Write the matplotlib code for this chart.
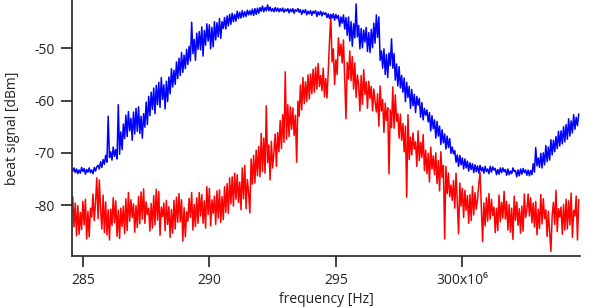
import numpy as np
import matplotlib
matplotlib.use("Agg")
import matplotlib.pyplot as plt

plt.rcParams["axes.unicode_minus"] = False
plt.rcParams["font.family"] = ["Open Sans", "DejaVu Sans"]

# blue trace (dBm), one row per MHz starting at 284.6 MHz, 0.05 MHz steps
blue = [
    -73.5, -72.9, -73.8, -73.1, -74.0, -73.3, -73.9, -72.8, -73.6, -73.0,
    -74.1, -73.2, -73.7, -72.9, -73.8, -73.3, -74.0, -72.8, -73.5, -72.7,
    -72.4, -73.1, -71.7, -72.8, -71.3, -72.2, -70.5, -71.8, -63.0, -70.9,
    -69.8, -71.4, -68.9, -70.7, -69.4, -71.2, -60.8, -70.3, -66.0, -69.4,
    -64.5, -67.3, -62.8, -66.9, -62.1, -65.8, -63.4, -67.6, -62.2, -66.4,
    -61.5, -65.9, -61.2, -66.3, -63.0, -67.2, -62.5, -65.1, -60.3, -64.6,
    -59.2, -62.9, -58.4, -61.7, -57.6, -62.5, -57.1, -60.8, -56.5, -61.3,
    -55.6, -59.8, -57.0, -61.6, -56.3, -60.2, -55.5, -58.7, -53.9, -57.4,
    -54.2, -56.9, -52.6, -55.8, -51.9, -55.2, -50.8, -54.6, -51.3, -53.9,
    -50.2, -53.1, -49.6, -52.4, -45.0, -51.0, -48.3, -52.3, -47.1, -50.2,
    -46.8, -50.3, -45.9, -51.5, -46.6, -49.4, -45.3, -48.6, -45.5, -50.1,
    -46.0, -49.7, -44.9, -48.4, -45.1, -47.8, -44.3, -48.1, -44.9, -46.2,
    -44.1, -46.3, -43.8, -45.7, -43.5, -45.4, -43.3, -44.9, -43.5, -44.8,
    -42.9, -44.3, -43.1, -44.2, -42.8, -44.0, -43.0, -43.9, -42.7, -43.6,
    -42.8, -43.6, -42.5, -43.7, -42.4, -43.5, -42.3, -43.3, -42.2, -42.9,
    -41.9, -43.0, -42.2, -42.8, -41.7, -42.8, -42.1, -42.9, -42.4, -43.0,
    -42.2, -42.9, -42.3, -43.0, -42.4, -42.9, -42.3, -43.1, -42.5, -42.9,
    -42.4, -43.2, -42.5, -43.0, -42.4, -43.3, -42.6, -42.9, -42.4, -43.1,
    -42.6, -43.5, -42.7, -43.2, -42.6, -43.6, -42.9, -43.4, -42.8, -43.7,
    -42.9, -43.3, -42.8, -43.9, -43.0, -43.6, -42.9, -43.8, -43.1, -43.5,
    -43.2, -44.1, -43.4, -44.3, -43.5, -44.2, -43.4, -44.6, -43.5, -44.3,
    -43.7, -45.8, -44.0, -45.2, -43.6, -46.3, -44.1, -47.5, -44.0, -48.6,
    -44.9, -49.6, -45.3, -48.0, -41.5, -47.8, -45.6, -50.1, -46.2, -49.9,
    -46.5, -48.8, -46.0, -50.6, -47.0, -50.8, -46.4, -49.9, -45.2, -49.0,
    -43.6, -47.9, -44.0, -52.3, -50.5, -53.8, -50.1, -55.0, -51.2, -55.6,
    -50.9, -53.3, -48.2, -53.8, -51.0, -56.1, -53.0, -57.2, -53.5, -57.6,
    -55.2, -58.4, -55.7, -60.2, -56.5, -59.4, -57.3, -61.5, -57.9, -61.0,
    -58.8, -62.3, -59.2, -60.9, -59.6, -63.2, -60.4, -63.7, -61.5, -62.8,
    -61.8, -64.1, -62.3, -65.8, -62.9, -65.4, -63.7, -67.2, -64.0, -66.8,
    -64.9, -68.4, -65.6, -68.1, -66.4, -69.3, -66.8, -69.0, -67.3, -70.1,
    -68.9, -70.2, -69.6, -71.8, -70.4, -72.6, -70.5, -72.3, -71.0, -73.1,
    -71.2, -72.9, -71.6, -73.5, -71.9, -73.2, -72.1, -73.8, -72.3, -73.6,
    -72.5, -73.9, -72.4, -73.5, -72.8, -73.9, -72.6, -73.6, -73.1, -74.0,
    -72.6, -73.7, -72.7, -73.3, -73.0, -74.2, -73.2, -74.1, -72.9, -73.8,
    -72.9, -73.6, -73.2, -74.3, -73.1, -74.2, -73.5, -74.0, -72.9, -73.6,
    -73.4, -74.6, -73.3, -74.4, -73.1, -74.1, -73.0, -73.8, -73.3, -74.3,
    -73.3, -74.4, -73.4, -74.2, -72.1, -73.7, -69.0, -72.5, -71.0, -72.8,
    -70.1, -72.9, -70.0, -72.3, -68.6, -71.7, -68.9, -71.4, -67.5, -70.4,
    -67.6, -69.8, -66.9, -69.2, -65.9, -68.7, -65.8, -68.3, -65.0, -67.9,
    -64.6, -67.4, -63.5, -66.8, -63.9, -66.2, -62.7, -65.5, -63.2, -64.8,
    -62.6,
]

# red trace (dBm), same sweep
red = [
    -78.5, -84.2, -79.6, -85.9, -80.1, -85.6, -81.4, -84.7, -79.3, -83.8,
    -78.9, -86.5, -81.2, -86.1, -80.6, -82.3, -77.9, -83.0, -79.5, -74.8,
    -82.6, -75.2, -80.7, -84.6, -78.1, -85.3, -79.4, -85.7, -80.9, -86.7,
    -80.8, -83.9, -78.6, -83.4, -79.2, -86.0, -81.0, -86.4, -80.6, -84.1,
    -80.2, -85.5, -78.8, -84.9, -77.6, -83.1, -79.0, -82.4, -79.8, -85.2,
    -80.1, -84.3, -78.4, -83.6, -77.5, -82.7, -76.9, -83.5, -79.4, -81.8,
    -80.6, -85.0, -79.7, -84.4, -78.2, -83.8, -77.0, -82.9, -77.4, -85.8,
    -80.4, -82.2, -79.6, -84.9, -79.1, -83.7, -80.3, -86.2, -80.9, -85.4,
    -79.1, -84.6, -78.5, -83.3, -77.8, -83.2, -79.0, -86.9, -80.5, -86.1,
    -81.3, -83.1, -78.7, -82.4, -77.6, -84.8, -79.9, -84.1, -78.6, -83.5,
    -77.6, -82.1, -78.0, -83.5, -79.2, -84.4, -76.5, -81.8, -76.8, -84.0,
    -79.0, -81.6, -78.3, -83.7, -77.3, -82.5, -77.1, -83.3, -78.4, -82.8,
    -76.5, -81.4, -75.9, -81.6, -74.8, -79.8, -74.6, -80.2, -73.9, -78.9,
    -74.2, -79.5, -75.6, -80.9, -72.9, -78.8, -72.4, -80.7, -75.1, -77.6,
    -81.5, -71.2, -76.0, -70.5, -75.8, -69.5, -74.4, -68.8, -74.6, -66.3,
    -73.6, -67.2, -73.9, -61.0, -71.9, -68.5, -75.2, -67.8, -72.9, -70.0,
    -66.4, -72.6, -66.1, -69.8, -63.8, -69.2, -62.7, -68.0, -54.5, -67.4,
    -60.8, -66.9, -61.2, -65.5, -61.4, -66.7, -62.8, -71.8, -60.1, -63.0,
    -57.0, -61.8, -55.6, -60.6, -56.4, -60.2, -55.1, -59.7, -54.9, -58.7,
    -54.0, -58.4, -53.6, -57.8, -52.9, -57.3, -55.2, -58.1, -53.8, -59.3,
    -55.8, -59.5, -54.3, -48.5, -43.8, -52.6, -50.1, -56.9, -52.2, -55.0,
    -48.0, -51.4, -49.2, -52.8, -48.4, -56.0, -63.5, -52.7, -55.9, -50.5,
    -56.2, -51.6, -57.8, -52.8, -59.4, -55.1, -57.0, -62.0, -55.2, -60.7,
    -54.1, -58.8, -56.4, -61.5, -56.3, -59.6, -57.3, -62.0, -57.8, -60.2,
    -62.2, -58.7, -64.9, -57.2, -62.0, -59.8, -66.1, -60.5, -63.8, -61.4,
    -74.0, -61.8, -65.2, -57.4, -65.3, -58.9, -64.0, -62.5, -67.2, -62.6,
    -67.6, -64.4, -69.8, -64.9, -78.5, -62.7, -71.3, -67.0, -70.4, -66.2,
    -69.3, -67.9, -72.6, -65.8, -71.5, -68.0, -70.9, -66.5, -73.4, -69.5,
    -74.0, -70.1, -75.6, -68.9, -73.1, -70.6, -74.2, -70.0, -75.9, -71.5,
    -77.3, -69.8, -74.7, -72.4, -86.5, -72.6, -77.8, -73.9, -78.4, -76.2,
    -79.1, -75.3, -80.6, -73.9, -79.4, -85.5, -75.8, -80.2, -76.8, -82.4,
    -77.2, -81.0, -78.2, -83.5, -78.0, -83.0, -76.4, -81.9, -77.6, -80.8,
    -78.9, -75.9, -73.8, -80.5, -87.0, -79.6, -84.0, -78.6, -83.1, -77.8,
    -82.7, -78.9, -82.0, -80.4, -85.3, -80.6, -84.9, -78.1, -83.2, -79.5,
    -82.5, -77.4, -82.7, -79.3, -84.8, -79.9, -85.2, -80.6, -86.6, -78.3,
    -82.9, -79.4, -83.9, -80.7, -85.4, -80.2, -85.0, -77.9, -82.4, -81.0,
    -77.9, -82.1, -78.6, -83.4, -79.6, -84.2, -79.3, -85.7, -80.8, -84.5,
    -78.0, -83.6, -78.8, -82.6, -80.9, -86.0, -81.2, -85.1, -88.9, -82.0,
    -79.5, -83.7, -77.2, -85.1, -80.7, -82.3, -80.4, -85.6, -79.9, -84.8,
    -78.9, -84.6, -79.2, -83.8, -77.7, -86.2, -81.0, -82.1, -78.3, -86.7,
    -79.0,
]

f_start, f_stop = 284.6e6, 304.6e6
freq = np.linspace(f_start, f_stop, len(blue))

xticks = [285e6, 290e6, 295e6, 300e6]
xtick_labels = ["285", "290", "295", "300x10\u2076"]
yticks = [-80, -70, -60, -50]

fig = plt.figure(figsize=(5.89, 3.07), dpi=100)
ax = fig.add_axes([72 / 589, 51 / 307, 508 / 589, 256 / 307])

ax.plot(freq, red, color="#ff0000", lw=1.1)
ax.plot(freq, blue, color="#0000ff", lw=1.1)

ax.set_xlim(284.57e6, 304.65e6)
ax.set_ylim(-89.76, -40.75)

ax.spines["top"].set_visible(False)
ax.spines["right"].set_visible(False)
for s in ("left", "bottom"):
    ax.spines[s].set_linewidth(1.2)
    ax.spines[s].set_color("#222222")

ax.set_xticks(xticks)
ax.set_xticklabels(xtick_labels)
ax.set_yticks(yticks)
ax.tick_params(direction="out", length=8, width=1.2, color="#222222",
               labelsize=10, labelcolor="#222222")
ax.tick_params(axis="x", pad=4)
ax.tick_params(axis="y", pad=4.5)

ax.set_ylabel("beat signal [dBm]", fontsize=10, color="#222222", labelpad=10)
ax.set_xlabel("frequency [Hz]", fontsize=10, color="#222222", labelpad=3)

fig.savefig("out.png", dpi=100)
